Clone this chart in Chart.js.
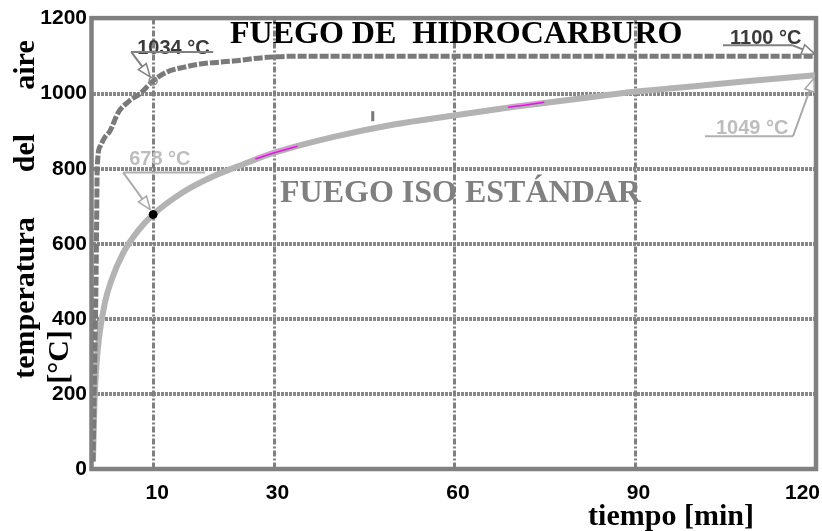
<!DOCTYPE html>
<html>
<head>
<meta charset="utf-8">
<script src="https://cdn.jsdelivr.net/npm/chart.js@4/dist/chart.umd.min.js"></script>
<style>
  html, body { margin: 0; padding: 0; background: #fff; }
  canvas { display: block; }
</style>
</head>
<body>
<canvas id="c" width="822" height="531"></canvas>
<script>
// ejes
var xTicks = [10, 30, 60, 90, 120];
var xGrid = [10, 30, 60, 90];
var yGrid = [200, 400, 600, 800, 1000];

// curva de hidrocarburo
var hcTime = [0, 0.3, 0.5, 0.6, 0.7, 1.2, 2, 2.8, 4.2, 6, 7.8, 10, 12.3, 15, 17.8, 23.3, 29, 35, 60, 90, 120];
var hcTemp = [20, 300, 500, 650, 800, 860, 885, 900, 950, 980, 1000, 1034, 1058, 1070, 1079, 1087, 1097, 1100, 1100, 1100, 1100];

// curva ISO estándar
var isoTime = [0, 0.25, 0.5, 1, 2, 3, 5, 7.5, 10, 15, 20, 25, 30, 40, 50, 60, 70, 80, 90, 100, 110, 120];
var isoTemp = [20, 180, 260, 350, 445, 500, 575, 635, 678, 738, 780, 812, 842, 885, 918, 942, 965, 985, 1005, 1020, 1035, 1049];

// trazos magenta que asoman bajo la curva ISO
var pinkTime = [27, 30, 34, 50, 69, 72, 75];
var pinkTemp = [826, 842, 860, null, 964, 970, 977];

function pts(xs, ys) {
  return xs.map(function (x, i) { return { x: x, y: ys[i] }; });
}

function arrow(ctx, x1, y1, x2, y2, color) {
  var ang = Math.atan2(y2 - y1, x2 - x1);
  var L = 13, W = 5;
  var bx = x2 - L * Math.cos(ang), by = y2 - L * Math.sin(ang);
  ctx.strokeStyle = color;
  ctx.lineWidth = 2;
  ctx.beginPath();
  ctx.moveTo(x1, y1);
  ctx.lineTo(bx, by);
  ctx.stroke();
  ctx.beginPath();
  ctx.moveTo(x2, y2);
  ctx.lineTo(bx + W * Math.sin(ang), by - W * Math.cos(ang));
  ctx.lineTo(bx - W * Math.sin(ang), by + W * Math.cos(ang));
  ctx.closePath();
  ctx.fillStyle = "#fff";
  ctx.fill();
  ctx.lineWidth = 1.5;
  ctx.stroke();
}

function label(ctx, str, x, y, color, lineColor, ux1, ux2, uy) {
  ctx.fillStyle = color;
  ctx.textAlign = "left";
  ctx.textBaseline = "alphabetic";
  ctx.fillText(str, x, y);
  ctx.strokeStyle = lineColor;
  ctx.lineWidth = 2;
  ctx.beginPath();
  ctx.moveTo(ux1, uy);
  ctx.lineTo(ux2, uy);
  ctx.stroke();
}

function vtext(ctx, str, x, yc) {
  ctx.save();
  ctx.translate(x, yc);
  ctx.rotate(-Math.PI / 2);
  ctx.textAlign = "center";
  ctx.textBaseline = "alphabetic";
  ctx.fillText(str, 0, 0);
  ctx.restore();
}

var decor = {
  id: "decor",
  beforeDatasetsDraw: function (chart) {
    var ctx = chart.ctx, a = chart.chartArea;
    var xs = chart.scales.x, ys = chart.scales.y;
    ctx.save();
    ctx.strokeStyle = "#888";
    ctx.lineWidth = 4;
    ctx.setLineDash([3, 1]);
    yGrid.forEach(function (v) {
      var y = Math.round(ys.getPixelForValue(v));
      ctx.beginPath();
      ctx.moveTo(a.left, y);
      ctx.lineTo(a.right, y);
      ctx.stroke();
    });
    ctx.strokeStyle = "#808080";
    ctx.lineWidth = 3;
    ctx.setLineDash([6, 2, 2, 2]);
    xGrid.forEach(function (v) {
      var x = Math.round(xs.getPixelForValue(v)) + 0.5;
      ctx.beginPath();
      ctx.moveTo(x, a.top);
      ctx.lineTo(x, a.bottom);
      ctx.stroke();
    });
    ctx.setLineDash([]);
    ctx.lineWidth = 4.5;
    ctx.strokeRect(a.left - 1.5, a.top - 0.5, a.right - a.left + 2.5, a.bottom - a.top + 0.5);

    // títulos de las curvas
    ctx.font = 'bold 32px "Liberation Serif"';
    ctx.textAlign = "left";
    ctx.fillStyle = "#000";
    ctx.fillText("FUEGO DE  HIDROCARBURO", 230, 43);
    ctx.fillStyle = "#808080";
    ctx.fillText("FUEGO ISO ESTÁNDAR", 280, 202);
    ctx.restore();
  },
  afterDatasetsDraw: function (chart) {
    var ctx = chart.ctx;
    var xs = chart.scales.x, ys = chart.scales.y;
    function P(t, v) { return { x: xs.getPixelForValue(t), y: ys.getPixelForValue(v) }; }
    ctx.save();

    // marca pequeña
    var m = P(46.5, 940);
    ctx.fillStyle = "#777";
    ctx.fillRect(m.x - 1.5, m.y - 5, 3, 10);

    ctx.font = 'bold 20px "Liberation Sans"';
    var p = P(10, 1034);
    label(ctx, "1034 °C", p.x - 16, p.y - 27, "#3a3a3a", "#808080", p.x - 22, p.x + 60, p.y - 29);
    arrow(ctx, p.x - 22, p.y - 29, p.x - 3, p.y - 4, "#808080");

    p = P(120, 1100);
    label(ctx, "1100 °C", p.x - 85, p.y - 12, "#3a3a3a", "#808080", p.x - 92, p.x - 23, p.y - 11);
    arrow(ctx, p.x - 23, p.y - 11, p.x, p.y - 2, "#808080");

    p = P(10, 678);
    label(ctx, "678 °C", p.x - 24, p.y - 50, "#bdbdbd", "#b0b0b0", p.x - 30, p.x + 52, p.y - 42);
    arrow(ctx, p.x - 30, p.y - 42, p.x - 3, p.y - 5, "#a8a8a8");

    p = P(120, 1049);
    label(ctx, "1049 °C", p.x - 99, p.y + 59, "#bdbdbd", "#b0b0b0", p.x - 110, p.x - 22, p.y + 61);
    arrow(ctx, p.x - 22, p.y + 61, p.x - 1, p.y + 3, "#a8a8a8");

    // etiquetas del eje x
    ctx.font = 'bold 21px "Liberation Sans"';
    ctx.fillStyle = "#000";
    ctx.textAlign = "center";
    xTicks.forEach(function (v) {
      var w = ctx.measureText(String(v)).width;
      var x = xs.getPixelForValue(v) + 4;
      if (x + w / 2 > 820) x = 820 - w / 2;
      ctx.fillText(String(v), x, 499);
    });

    // títulos de ejes
    ctx.font = 'bold 30px "Liberation Serif"';
    ctx.fillStyle = "#000";
    vtext(ctx, "aire", 34, 65);
    vtext(ctx, "del", 34, 153);
    vtext(ctx, "temperatura", 34, 298);
    vtext(ctx, "[°C]", 68, 357);
    ctx.textAlign = "center";
    ctx.fillText("tiempo [min]", 671, 525);
    ctx.restore();
  }
};

new Chart(document.getElementById("c"), {
  type: "scatter",
  data: {
    datasets: [
      {
        data: pts([10], [678]),
        pointRadius: 4,
        pointBackgroundColor: "#000",
        pointBorderColor: "#000",
        showLine: false,
        order: 0
      },
      {
        data: pts([10], [1034]),
        pointRadius: 4,
        pointBackgroundColor: "rgba(255,255,255,0)",
        pointBorderColor: "#8a8a8a",
        pointBorderWidth: 1.5,
        showLine: false,
        order: 0
      },
      {
        data: pts(pinkTime, pinkTemp),
        showLine: true,
        spanGaps: false,
        borderColor: "#ff00ff",
        borderWidth: 1.5,
        pointRadius: 0,
        order: 1
      },
      {
        data: pts(hcTime, hcTemp),
        showLine: true,
        borderColor: "#7a7a7a",
        borderWidth: 5,
        borderDash: [9, 2],
        pointRadius: 0,
        cubicInterpolationMode: "monotone",
        order: 2
      },
      {
        data: pts(isoTime, isoTemp),
        showLine: true,
        borderColor: "#b3b3b3",
        borderWidth: 6,
        pointRadius: 0,
        cubicInterpolationMode: "monotone",
        order: 3
      }
    ]
  },
  options: {
    responsive: false,
    animation: false,
    devicePixelRatio: 1,
    layout: { padding: { left: 0, top: 14, right: 7, bottom: 0 } },
    plugins: { legend: { display: false }, tooltip: { enabled: false } },
    scales: {
      x: {
        type: "linear",
        min: 0,
        max: 120,
        grid: { display: false },
        border: { display: false },
        ticks: { display: false },
        afterFit: function (s) { s.height = 62; }
      },
      y: {
        min: 0,
        max: 1200,
        grid: { display: false, drawTicks: false },
        border: { display: false },
        ticks: {
          stepSize: 200,
          padding: 6,
          color: "#000",
          font: { family: "Liberation Sans", size: 21, weight: "bold" },
          callback: function (v) { return String(v); }
        },
        afterFit: function (s) { s.width = 93; }
      }
    }
  },
  plugins: [decor]
});
</script>
</body>
</html>
